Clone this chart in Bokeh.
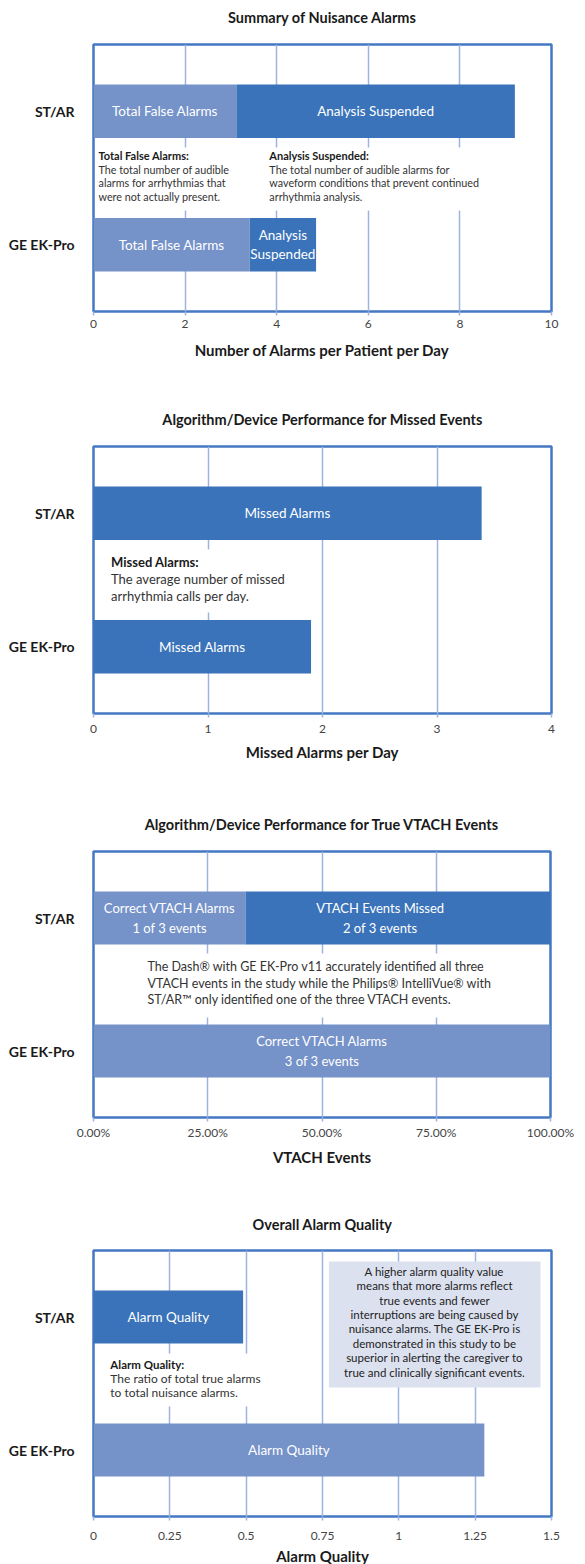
from bokeh.plotting import figure
from bokeh.models import (ColumnDataSource, FactorRange, Range1d, FixedTicker,
                          Label, BoxAnnotation, NumeralTickFormatter, LinearAxis)
from bokeh.layouts import column
from bokeh.embed import file_html
from bokeh.resources import INLINE
from bokeh.core.properties import value

FONT = "Lato"
LIGHT = "#7592C9"
DARK = "#3A73B9"
FRAME = "#4478C2"
GRID = "#9DB3E0"
TEXT = "#1A1A1A"
BODY = "#333333"
TICK = "#444444"

# ---------------- data ----------------
devices = ["GE EK-Pro", "ST/AR"]          # bottom -> top

# Chart 1: Summary of Nuisance Alarms (alarms per patient per day)
nuis_false = [3.41, 3.12]
nuis_suspended = [1.45, 6.08]
nuis_ticks = [0, 2, 4, 6, 8, 10]
nuis_false_labels = ["Total False Alarms", "Total False Alarms"]
nuis_susp_labels = ["Analysis\nSuspended", "Analysis Suspended"]

# Chart 2: Missed alarms per day
missed = [1.90, 3.39]
missed_ticks = [0, 1, 2, 3, 4]
missed_labels = ["Missed Alarms", "Missed Alarms"]

# Chart 3: True VTACH events
vt_correct = [3, 1]
vt_missed = [0, 2]
vt_total = 3
vt_ticks = [0, 0.25, 0.5, 0.75, 1.0]

# Chart 4: Overall alarm quality
quality = [1.28, 0.49]
quality_colors = [LIGHT, DARK]
quality_ticks = [0, 0.25, 0.5, 0.75, 1, 1.25, 1.5]
quality_tick_labels = ["0", "0.25", "0.5", "0.75", "1", "1.25", "1.5"]
quality_labels = ["Alarm Quality", "Alarm Quality"]


def ydat(ypage, T, B):
    return (B - ypage) / (B - T) * 2.0


def make_fig(title, title_gap, xmax, ticks, L, R, top, T, B, bottom, xlabel,
             tick_standoff=4, label_standoff=10):
    p = figure(y_range=FactorRange(factors=devices, range_padding=0),
               x_range=Range1d(0, xmax),
               frame_width=R - L, frame_height=B - T,
               min_border_left=L, min_border_right=585 - R,
               min_border_top=T - top, min_border_bottom=bottom - B,
               output_backend="svg", toolbar_location=None,
               background_fill_color="white", border_fill_color="white")
    ax = p.below[0]
    ax.ticker = FixedTicker(ticks=ticks)
    ax.axis_label = xlabel
    ax.axis_label_text_font = FONT
    ax.axis_label_text_font_size = "15px"
    ax.axis_label_text_font_style = "bold"
    ax.axis_label_text_color = TEXT
    ax.axis_label_standoff = label_standoff
    ax.axis_line_color = None
    ax.major_tick_line_color = GRID
    ax.major_tick_line_width = 1.5
    ax.major_tick_out = 4
    ax.major_tick_in = 0
    ax.minor_tick_line_color = None
    ax.major_label_text_font = FONT
    ax.major_label_text_font_size = "12px"
    ax.major_label_text_color = TICK
    ax.major_label_standoff = tick_standoff
    ay = p.left[0]
    ay.axis_line_color = None
    ay.major_tick_line_color = None
    ay.minor_tick_line_color = None
    ay.major_label_text_font = FONT
    ay.major_label_text_font_size = "14px"
    ay.major_label_text_font_style = "bold"
    ay.major_label_text_color = TEXT
    ay.major_label_standoff = 13
    p.xgrid.ticker = FixedTicker(ticks=ticks)
    p.xgrid.grid_line_color = GRID
    p.xgrid.grid_line_width = 1.5
    p.ygrid.grid_line_color = None
    p.outline_line_color = FRAME
    p.outline_line_width = 2.5
    p.outline_line_alpha = 1
    # chart title, drawn as the label of a bare axis above the frame
    tax = LinearAxis(ticker=FixedTicker(ticks=[]), axis_label=title,
                     axis_line_color=None, major_tick_line_color=None,
                     minor_tick_line_color=None, major_tick_out=0,
                     major_tick_in=0, major_label_standoff=0,
                     major_label_text_font_size="0px",
                     axis_label_standoff=title_gap,
                     axis_label_text_font=FONT,
                     axis_label_text_font_size="14.5px",
                     axis_label_text_font_style="bold",
                     axis_label_text_color=TEXT)
    p.add_layout(tax, "above")
    return p


def text_lines(p, x, y_first, dy, lines, T, B, size, head_size=None,
               bold_first=False, align="left", color=BODY):
    for i, line in enumerate(lines):
        head = bold_first and i == 0
        p.add_layout(Label(x=x, y=ydat(y_first - 2 + i * dy, T, B), text=line,
                           text_font=FONT,
                           text_font_size=(head_size or size) if head else size,
                           text_font_style="bold" if head else "normal",
                           text_color=TEXT if head else color,
                           text_align=align, text_baseline="middle"))


def white_box(p, left, right, ytop, ybot, T, B, color="white"):
    p.add_layout(BoxAnnotation(left=left, right=right,
                               top=ydat(ytop, T, B), bottom=ydat(ybot, T, B),
                               fill_color=color, fill_alpha=1, line_color=None))


BAR_FONT = "13.5px"

# ---------------- chart 1 ----------------
L, R, T, B = 93, 551, 44, 311
p1 = make_fig("Summary of Nuisance Alarms", 19, 10, nuis_ticks, L, R, 0, T, B, 395,
              "Number of Alarms per Patient per Day")
tot1 = [a + b for a, b in zip(nuis_false, nuis_suspended)]
s1 = ColumnDataSource(dict(device=devices, f=nuis_false, t=tot1,
                           zero=[0, 0],
                           cf=[v / 2 for v in nuis_false],
                           cs=[(a + b) / 2 for a, b in zip(nuis_false, tot1)],
                           lf=nuis_false_labels, ls=nuis_susp_labels))
p1.hbar(y="device", left="zero", right="f", height=0.4, fill_color=LIGHT,
        line_color=None, source=s1)
p1.hbar(y="device", left="f", right="t", height=0.4, fill_color=DARK,
        line_color=None, source=s1)
p1.text(x="cf", y="device", text="lf", source=s1, text_align="center",
        text_baseline="middle", text_color="white", text_font=value(FONT),
        text_font_size=BAR_FONT, text_line_height=1.2)
p1.text(x="cs", y="device", text="ls", source=s1, text_align="center",
        text_baseline="middle", text_color="white", text_font=value(FONT),
        text_font_size=BAR_FONT, text_line_height=1.2)
white_box(p1, 0.05, 8.4, 147, 210, T, B)
text_lines(p1, 0.11, 157, 13.5,
           ["Total False Alarms:", "The total number of audible",
            "alarms for arrhythmias that", "were not actually present."],
           T, B, "10.75px", head_size="11px", bold_first=True)
text_lines(p1, 3.84, 157, 13.5,
           ["Analysis Suspended:", "The total number of audible alarms for",
            "waveform conditions that prevent continued", "arrhythmia analysis."],
           T, B, "10.75px", head_size="11px", bold_first=True)

# ---------------- chart 2 ----------------
L, R, T, B = 93, 551, 446, 713
p2 = make_fig("Algorithm/Device Performance for Missed Events", 19, 4, missed_ticks,
              L, R, 395, T, B, 800, "Missed Alarms per Day",
              tick_standoff=7, label_standoff=7)
s2 = ColumnDataSource(dict(device=devices, v=missed, zero=[0, 0],
                           c=[v / 2 for v in missed], lab=missed_labels))
p2.hbar(y="device", left="zero", right="v", height=0.4, fill_color=DARK,
        line_color=None, source=s2)
p2.text(x="c", y="device", text="lab", source=s2, text_align="center",
        text_baseline="middle", text_color="white", text_font=value(FONT),
        text_font_size=BAR_FONT)
white_box(p2, 0.02, 1.8, 549, 612, T, B)
text_lines(p2, 0.153, 563, 17,
           ["Missed Alarms:", "The average number of missed",
            "arrhythmia calls per day."],
           T, B, "13px", head_size="13px", bold_first=True)

# ---------------- chart 3 ----------------
L, R, T, B = 91, 548, 851, 1117
p3 = make_fig("Algorithm/Device Performance for True VTACH Events", 19, 1.0, vt_ticks,
              L, R, 800, T, B, 1200, "VTACH Events",
              tick_standoff=3, label_standoff=5)
p3.below[0].formatter = NumeralTickFormatter(format="0.00%")
fc = [c / vt_total for c in vt_correct]
ft = [(c + m) / vt_total for c, m in zip(vt_correct, vt_missed)]
s3a = ColumnDataSource(dict(device=devices, zero=[0, 0], r=fc,
                            c=[v / 2 for v in fc],
                            lab=[f"Correct VTACH Alarms\n{c} of {vt_total} events"
                                 for c in vt_correct]))
miss_dev = [d for d, m in zip(devices, vt_missed) if m > 0]
miss_l = [a for a, m in zip(fc, vt_missed) if m > 0]
miss_r = [b for b, m in zip(ft, vt_missed) if m > 0]
miss_n = [m for m in vt_missed if m > 0]
s3b = ColumnDataSource(dict(device=miss_dev, l=miss_l, r=miss_r,
                            c=[(a + b) / 2 for a, b in zip(miss_l, miss_r)],
                            lab=[f"VTACH Events Missed\n{m} of {vt_total} events"
                                 for m in miss_n]))
p3.hbar(y="device", left="zero", right="r", height=0.4, fill_color=LIGHT,
        line_color=None, source=s3a)
p3.hbar(y="device", left="l", right="r", height=0.4, fill_color=DARK,
        line_color=None, source=s3b)
p3.text(x="c", y="device", text="lab", source=s3a, text_align="center",
        text_baseline="middle", text_color="white", text_font=value(FONT),
        text_font_size="13px", text_line_height=1.25)
p3.text(x="c", y="device", text="lab", source=s3b, text_align="center",
        text_baseline="middle", text_color="white", text_font=value(FONT),
        text_font_size="13px", text_line_height=1.25, x_offset=-18)
white_box(p3, 0.005, 0.995, 953, 1017, T, B)
text_lines(p3, 0.118, 968, 16.5,
           ["The Dash\u00ae with GE EK-Pro v11 accurately identified all three",
            "VTACH events in the study while the Philips\u00ae IntelliVue\u00ae with",
            "ST/AR\u2122 only identified one of the three VTACH events."],
           T, B, "12.5px")

# ---------------- chart 4 ----------------
L, R, T, B = 89, 547, 1250, 1516
p4 = make_fig("Overall Alarm Quality", 18, 1.5, quality_ticks, L, R, 1200, T, B, 1570,
              "Alarm Quality", tick_standoff=11, label_standoff=4)
p4.below[0].major_label_overrides = {t: s for t, s in zip(quality_ticks, quality_tick_labels)}
s4 = ColumnDataSource(dict(device=devices, v=quality, zero=[0, 0],
                           c=[v / 2 for v in quality], col=quality_colors,
                           lab=quality_labels))
p4.hbar(y="device", left="zero", right="v", height=0.4, fill_color="col",
        line_color=None, source=s4)
p4.text(x="c", y="device", text="lab", source=s4, text_align="center",
        text_baseline="middle", text_color="white", text_font=value(FONT),
        text_font_size=BAR_FONT)
white_box(p4, 0.005, 0.6, 1353, 1406, T, B)
text_lines(p4, 0.055, 1366, 14,
           ["Alarm Quality:", "The ratio of total true alarms",
            "to total nuisance alarms."],
           T, B, "12px", head_size="11.5px", bold_first=True)
white_box(p4, 0.771, 1.464, 1261, 1387, T, B, color="#DCE1F0")
text_lines(p4, 1.117, 1272.7, 14.43,
           ["A higher alarm quality value",
            "means that more alarms reflect",
            "true events and fewer",
            "interruptions are being caused by",
            "nuisance alarms. The GE EK-Pro is",
            "demonstrated in this study to be",
            "superior in alerting the caregiver to",
            "true and clinically significant events."],
           T, B, "11.5px", align="center", color="#222222")

layout = column(p1, p2, p3, p4, spacing=0)
open("out.html", "w").write(file_html(layout, INLINE))
